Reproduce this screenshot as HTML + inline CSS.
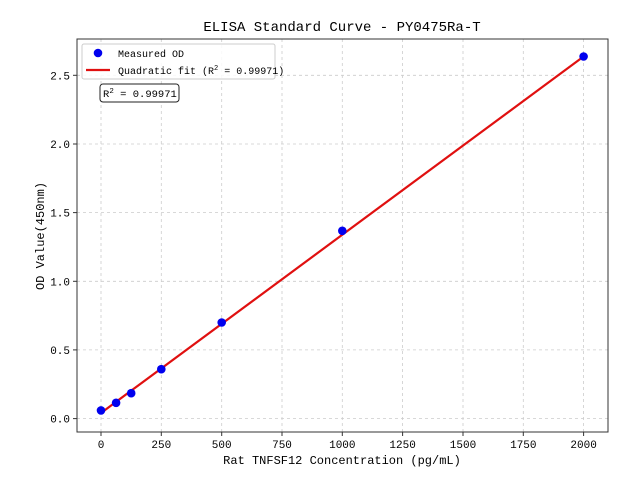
<!DOCTYPE html>
<html><head><meta charset="utf-8"><style>
body{margin:0;background:#fff}
text{font-family:"Liberation Mono","WenQuanYi Zen Hei",monospace;fill:#000}
</style></head><body>
<svg width="640" height="480" xmlns="http://www.w3.org/2000/svg">
<rect width="640" height="480" fill="#fff"/>
<g stroke="#ccc" stroke-dasharray="3,3" stroke-width="0.8">
<line x1="101" y1="39" x2="101" y2="432"/><line x1="161.3" y1="39" x2="161.3" y2="432"/>
<line x1="221.7" y1="39" x2="221.7" y2="432"/><line x1="282" y1="39" x2="282" y2="432"/>
<line x1="342.3" y1="39" x2="342.3" y2="432"/><line x1="402.6" y1="39" x2="402.6" y2="432"/>
<line x1="463" y1="39" x2="463" y2="432"/><line x1="523.3" y1="39" x2="523.3" y2="432"/>
<line x1="583.6" y1="39" x2="583.6" y2="432"/>
<line x1="77" y1="418.6" x2="608" y2="418.6"/><line x1="77" y1="349.9" x2="608" y2="349.9"/>
<line x1="77" y1="281.3" x2="608" y2="281.3"/><line x1="77" y1="212.6" x2="608" y2="212.6"/>
<line x1="77" y1="144" x2="608" y2="144"/><line x1="77" y1="75.3" x2="608" y2="75.3"/>
</g>
<rect x="77" y="39" width="531" height="393" fill="none" stroke="#333" stroke-width="1"/>
<g stroke="#333"><line x1="101" y1="432" x2="101" y2="436"/><line x1="161.3" y1="432" x2="161.3" y2="436"/><line x1="221.7" y1="432" x2="221.7" y2="436"/><line x1="282" y1="432" x2="282" y2="436"/><line x1="342.3" y1="432" x2="342.3" y2="436"/><line x1="402.6" y1="432" x2="402.6" y2="436"/><line x1="463" y1="432" x2="463" y2="436"/><line x1="523.3" y1="432" x2="523.3" y2="436"/><line x1="583.6" y1="432" x2="583.6" y2="436"/>
<line x1="73" y1="418.6" x2="77" y2="418.6"/><line x1="73" y1="349.9" x2="77" y2="349.9"/><line x1="73" y1="281.3" x2="77" y2="281.3"/><line x1="73" y1="212.6" x2="77" y2="212.6"/><line x1="73" y1="144" x2="77" y2="144"/><line x1="73" y1="75.3" x2="77" y2="75.3"/></g>
<g font-size="11" text-anchor="middle">
<text x="101" y="448">0</text><text x="161.3" y="448">250</text><text x="221.7" y="448">500</text><text x="282" y="448">750</text><text x="342.3" y="448">1000</text><text x="402.6" y="448">1250</text><text x="463" y="448">1500</text><text x="523.3" y="448">1750</text><text x="583.6" y="448">2000</text>
</g>
<g font-size="11" text-anchor="end">
<text x="70" y="422.6">0.0</text><text x="70" y="353.9">0.5</text><text x="70" y="285.3">1.0</text><text x="70" y="216.6">1.5</text><text x="70" y="148">2.0</text><text x="70" y="79.3">2.5</text>
</g>
<text x="342" y="464" font-size="12" text-anchor="middle">Rat TNFSF12 Concentration (pg/mL)</text>
<text transform="translate(44,236) rotate(-90)" font-size="12" text-anchor="middle">OD Value(450nm)</text>
<text x="342" y="31" font-size="14" text-anchor="middle">ELISA Standard Curve - PY0475Ra-T</text>
<line x1="101" y1="413" x2="583.6" y2="56.5" stroke="#e01010" stroke-width="2.2"/>
<g fill="#0000ee">
<circle cx="101" cy="410.4" r="4.3"/><circle cx="116.1" cy="402.8" r="4.3"/><circle cx="131.2" cy="393.2" r="4.3"/><circle cx="161.3" cy="369.2" r="4.3"/><circle cx="221.7" cy="322.5" r="4.3"/><circle cx="342.3" cy="230.8" r="4.3"/><circle cx="583.6" cy="56.5" r="4.3"/>
</g>
<rect x="82" y="44" width="193" height="35" rx="2" fill="#fff" fill-opacity="0.85" stroke="#ccc"/>
<circle cx="98" cy="53" r="4.3" fill="#0000ee"/>
<line x1="86" y1="70" x2="110" y2="70" stroke="#e01010" stroke-width="2.2"/>
<text x="118" y="57" font-size="10">Measured OD</text>
<text x="118" y="74" font-size="10">Quadratic fit (R<tspan font-size="7" dy="-4">2</tspan><tspan dy="4"> = 0.99971)</tspan></text>
<rect x="100" y="84" width="79" height="18" rx="3" fill="#fff" stroke="#222"/>
<text x="103" y="97" font-size="10.5">R<tspan font-size="7.5" dy="-4">2</tspan><tspan dy="4"> = 0.99971</tspan></text>
</svg>
</body></html>
